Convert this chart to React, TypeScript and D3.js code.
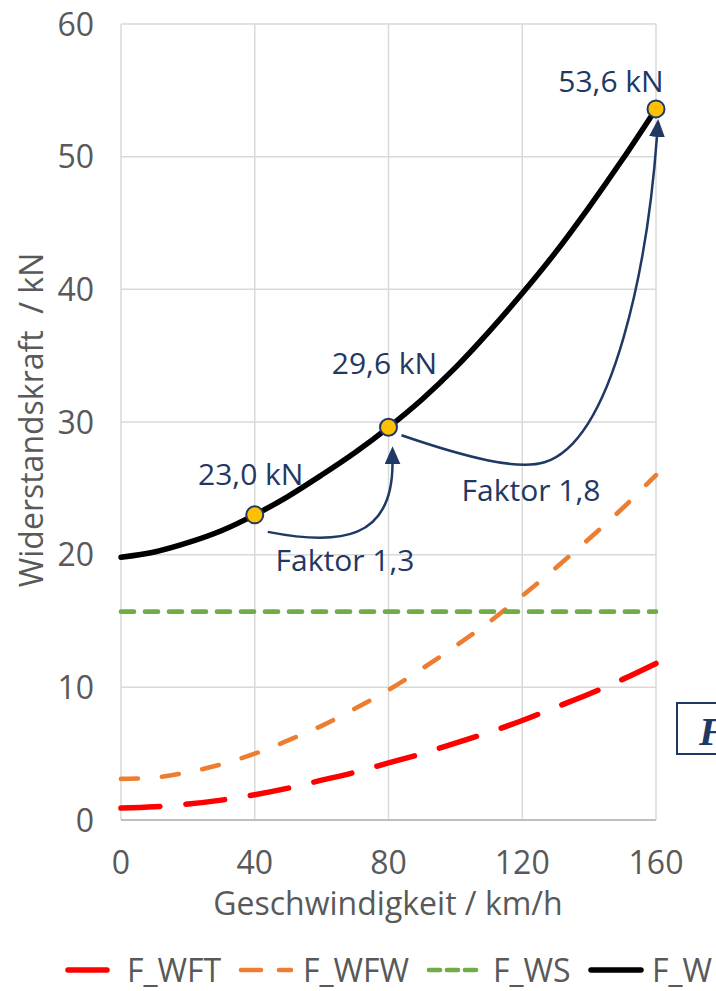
import React from "react";
import * as d3 from "d3";

// ---- data ----
const speeds = [0, 10, 20, 30, 40, 50, 60, 70, 80, 90, 100, 110, 120, 130, 140, 150, 160];
const fWFT = [0.9, 1.0, 1.2, 1.5, 1.9, 2.4, 3.0, 3.6, 4.3, 5.0, 5.8, 6.6, 7.5, 8.5, 9.5, 10.6, 11.8];
const fWFW = [3.1, 3.2, 3.6, 4.2, 5.0, 6.0, 7.1, 8.4, 9.8, 11.4, 13.1, 14.9, 16.9, 19.0, 21.2, 23.5, 26.0];
const fWS = [15.7, 15.7, 15.7, 15.7, 15.7, 15.7, 15.7, 15.7, 15.7, 15.7, 15.7, 15.7, 15.7, 15.7, 15.7, 15.7, 15.7];
const fW = [19.8, 20.2, 20.9, 21.8, 23.0, 24.4, 26.0, 27.7, 29.6, 31.7, 34.1, 36.8, 39.7, 42.8, 46.2, 49.8, 53.6];

const seriesNames = ["F_WFT", "F_WFW", "F_WS", "F_W"];
const seriesColors = ["#FF0000", "#ED7D31", "#70AD47", "#000000"];
const seriesDash = ["39,26", "17,24", "13,11", ""];
const legendDash = ["39,26", "20,18", "11,7", ""];
const seriesWidth = [5.5, 4.6, 4.7, 5.5];

const xTicks = [0, 40, 80, 120, 160];
const yTicks = [0, 10, 20, 30, 40, 50, 60];

const markerSpeeds = [40, 80, 160];
const markerValues = [23.0, 29.6, 53.6];
const markerLabels = ["23,0 kN", "29,6 kN", "53,6 kN"];
const factorLabels = ["Faktor 1,3", "Faktor 1,8"];

const xTitle = "Geschwindigkeit / km/h";
const yTitle = "Widerstandskraft  / kN";

const NAVY = "#1F3864";
const GRAY_TEXT = "#595959";
const FONT = "'Open Sans', 'Noto Sans', sans-serif";

export default function App() {
  const W = 716;
  const H = 991;
  const x = d3.scaleLinear().domain([0, 160]).range([121, 656]);
  const y = d3.scaleLinear().domain([0, 60]).range([820, 24]);

  const allSeries = [fWFT, fWFW, fWS, fW];
  const line = d3
    .line<number>()
    .x((_, i) => x(speeds[i]))
    .y((d) => y(d))
    .curve(d3.curveCatmullRom.alpha(0.5));

  // annotation arrows anchored to the markers
  const m0 = { x: x(markerSpeeds[0]), y: y(markerValues[0]) };
  const m1 = { x: x(markerSpeeds[1]), y: y(markerValues[1]) };
  const m2 = { x: x(markerSpeeds[2]), y: y(markerValues[2]) };

  const arrow1 = `M${m0.x + 13},${m0.y + 17} C${m0.x + 85},${m0.y + 31} ${m1.x + 4},${m1.y + 113} ${m1.x + 4},${m1.y + 36}`;
  const arrow2 = `M${m1.x + 13},${m1.y + 8} C${m1.x + 80},${m1.y + 31} ${m1.x + 130},${m1.y + 43} ${m1.x + 156},${m1.y + 35} C${m1.x + 226},${m1.y + 13} ${m2.x - 8},${m2.y + 151} ${m2.x + 1},${m2.y + 27}`;

  const legendX = [68, 241, 429, 591];
  const legendTextX = [127, 303, 493, 652];
  const legendY = 970;

  return (
    <svg width={W} height={H} style={{ position: "absolute", left: 0, top: 0, background: "#fff" }}>
      <defs>
        <marker
          id="arrowHead"
          markerUnits="userSpaceOnUse"
          markerWidth="22"
          markerHeight="22"
          refX="1"
          refY="8"
          orient="auto"
        >
          <path d="M0,0 L18,8 L0,16 Z" fill={NAVY} />
        </marker>
      </defs>
      <rect x={0} y={0} width={W} height={H} fill="#fff" />

      {/* gridlines */}
      {yTicks.map((t) => (
        <line key={"gy" + t} x1={x(0)} x2={x(160)} y1={y(t)} y2={y(t)} stroke="#D9D9D9" strokeWidth={1.5} />
      ))}
      {xTicks.map((t) => (
        <line key={"gx" + t} x1={x(t)} x2={x(t)} y1={y(0)} y2={y(60)} stroke="#D9D9D9" strokeWidth={1.5} />
      ))}
      {/* x axis line */}
      <line x1={x(0)} x2={x(160)} y1={y(0)} y2={y(0)} stroke="#BFBFBF" strokeWidth={2} />

      {/* tick labels */}
      {yTicks.map((t) => (
        <text key={"ty" + t} x={94} y={y(t)} dy="0.36em" textAnchor="end" fontFamily={FONT} fontSize={32} fill={GRAY_TEXT}>
          {t}
        </text>
      ))}
      {xTicks.map((t) => (
        <text key={"tx" + t} x={x(t)} y={862} dy="0.36em" textAnchor="middle" fontFamily={FONT} fontSize={32} fill={GRAY_TEXT}>
          {t}
        </text>
      ))}

      {/* axis titles */}
      <text x={388} y={903} dy="0.36em" textAnchor="middle" fontFamily={FONT} fontSize={32} fill={GRAY_TEXT}>
        {xTitle}
      </text>
      <text
        transform={`translate(31,420) rotate(-90)`}
        dy="0.36em"
        textAnchor="middle"
        fontFamily={FONT}
        fontSize={32}
        fill={GRAY_TEXT}
        style={{ whiteSpace: "pre" }}
      >
        {yTitle}
      </text>

      {/* series */}
      {allSeries.map((s, i) => (
        <path
          key={seriesNames[i]}
          d={line(s) || ""}
          fill="none"
          stroke={seriesColors[i]}
          strokeWidth={seriesWidth[i]}
          strokeDasharray={seriesDash[i] || undefined}
          strokeLinecap="round"
        />
      ))}

      {/* arrows */}
      <path d={arrow1} fill="none" stroke={NAVY} strokeWidth={2.5} markerEnd="url(#arrowHead)" />
      <path d={arrow2} fill="none" stroke={NAVY} strokeWidth={2.5} markerEnd="url(#arrowHead)" />

      {/* markers */}
      {markerSpeeds.map((s, i) => (
        <circle key={"m" + i} cx={x(s)} cy={y(markerValues[i])} r={8.5} fill="#FFC000" stroke={NAVY} strokeWidth={2} />
      ))}

      {/* marker labels */}
      <text x={m0.x - 4} y={m0.y - 41} dy="0.36em" textAnchor="middle" fontFamily={FONT} fontSize={30} fill={NAVY}>
        {markerLabels[0]}
      </text>
      <text x={m1.x - 4} y={m1.y - 64} dy="0.36em" textAnchor="middle" fontFamily={FONT} fontSize={30} fill={NAVY}>
        {markerLabels[1]}
      </text>
      <text x={m2.x - 45} y={m2.y - 28} dy="0.36em" textAnchor="middle" fontFamily={FONT} fontSize={30} fill={NAVY}>
        {markerLabels[2]}
      </text>
      <text x={345} y={560} dy="0.36em" textAnchor="middle" fontFamily={FONT} fontSize={30} fill={NAVY}>
        {factorLabels[0]}
      </text>
      <text x={531} y={490} dy="0.36em" textAnchor="middle" fontFamily={FONT} fontSize={30} fill={NAVY}>
        {factorLabels[1]}
      </text>

      {/* partial formula box at right */}
      <rect x={677} y={703} width={120} height={51} fill="#fff" stroke={NAVY} strokeWidth={2} />
      <text x={699} y={745} fontFamily="'Liberation Serif', 'DejaVu Serif', serif" fontStyle="italic" fontWeight="bold" fontSize={40} fill={NAVY}>
        F
      </text>

      {/* legend */}
      {seriesNames.map((n, i) => (
        <g key={"lg" + n}>
          <line
            x1={legendX[i]}
            x2={legendX[i] + 50}
            y1={legendY}
            y2={legendY}
            stroke={seriesColors[i]}
            strokeWidth={seriesWidth[i]}
            strokeDasharray={legendDash[i] || undefined}
            strokeLinecap="round"
          />
          <text x={legendTextX[i]} y={legendY} dy="0.36em" fontFamily={FONT} fontSize={32} fill={GRAY_TEXT}>
            {n}
          </text>
        </g>
      ))}
    </svg>
  );
}
